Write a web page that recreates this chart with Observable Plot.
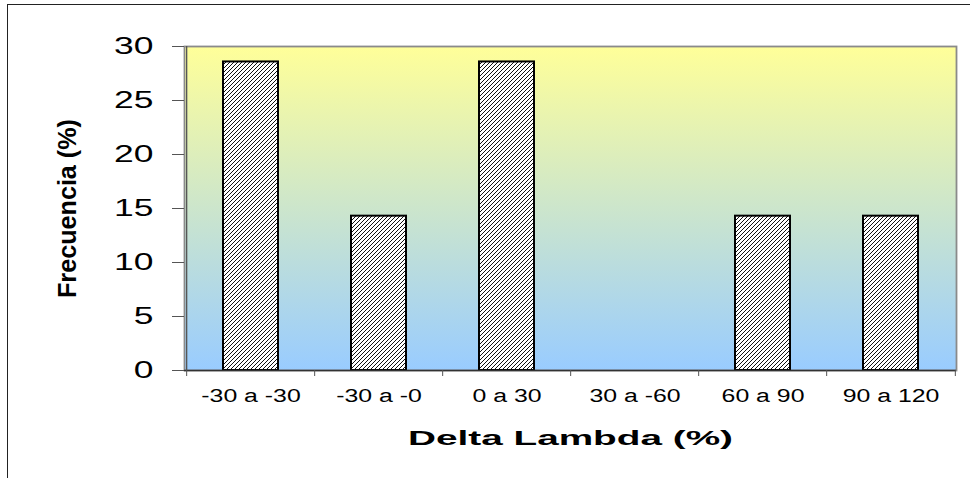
<!DOCTYPE html>
<html><head><meta charset="utf-8">
<script src="https://cdn.jsdelivr.net/npm/d3@7"></script>
<script src="https://cdn.jsdelivr.net/npm/@observablehq/plot@0.6"></script>
<style>
html,body{margin:0;padding:0;background:#fff;overflow:hidden}
#wrap{position:relative;width:970px;height:478px;overflow:hidden}
#border{position:absolute;left:7px;top:4px;width:1000px;height:1000px;border-top:1.5px solid #222;border-left:1.5px solid #222;pointer-events:none}
</style></head><body>
<div id="wrap"><div id="chart"></div><div id="border"></div></div>
<script>
const categories = ["-30 a -30", "-30 a -0", "0 a 30", "30 a -60", "60 a 90", "90 a 120"];
const frecuencia = [28.57, 14.29, 28.57, 0, 14.29, 14.29];
const yTicks = [0, 5, 10, 15, 20, 25, 30];
const xTitle = "Delta Lambda (%)";
const yTitle = "Frecuencia (%)";

const W = 970, H = 478, mL = 184, mR = 14, mT = 46, mB = 108;
const step = (W - mL - mR) / categories.length;
const data = categories.map((c, i) => ({cat: c, value: frecuencia[i]}));
const font = "Arial, 'Liberation Sans', Helvetica, sans-serif";

const chart = Plot.plot({
  width: W, height: H,
  marginLeft: mL, marginRight: mR, marginTop: mT, marginBottom: mB,
  style: {fontFamily: font, background: "transparent", color: "#000", overflow: "visible"},
  x: {type: "band", domain: categories, paddingInner: 0.5726, paddingOuter: 0.2863, axis: null},
  y: {domain: [0, 30], axis: null},
  marks: [
    Plot.frame({fill: "url(#bgGrad)", stroke: "#8a8a8a", strokeWidth: 1.8}),
    Plot.barY(data, {x: "cat", y: "value", fill: "url(#hatch)", stroke: "#000", strokeWidth: 2}),
    Plot.ruleY([0], {stroke: "#333", strokeWidth: 1.3}),
    Plot.ruleX([categories[0]], {dx: -step / 2, stroke: "#555", strokeWidth: 1.3}),
    Plot.axisY({ticks: yTicks, tickSize: 12, tickPadding: 19, fontSize: 23, stroke: "#555", fill: "#000", label: null}),
    Plot.axisX({tickSize: 0, tickPadding: 19, fontSize: 18, fill: "#000", label: null}),
    Plot.ruleX(categories, {x: d => d, y1: 0, y2: 0, dx: -step / 2, insetBottom: -6, stroke: "#555"}),
    Plot.ruleX([categories[categories.length - 1]], {x: d => d, y1: 0, y2: 0, dx: step / 2, insetBottom: -6, stroke: "#555"}),
    Plot.text([xTitle], {text: d => d, frameAnchor: "bottom", textAnchor: "middle", lineAnchor: "middle", dy: 68, fontSize: 21, fontWeight: "bold", fill: "#000"}),
    Plot.text([yTitle], {text: d => d, frameAnchor: "left", textAnchor: "middle", lineAnchor: "middle", dx: -117, rotate: -90, fontSize: 26, fontWeight: "bold", fill: "#000"})
  ]
});

document.getElementById("chart").appendChild(chart);

const svg = d3.select(chart);
const defs = svg.insert("defs", ":first-child");
const grad = defs.append("linearGradient").attr("id", "bgGrad")
  .attr("x1", 0).attr("y1", 0).attr("x2", 0).attr("y2", 1);
grad.append("stop").attr("offset", "0%").attr("stop-color", "#FFFF99");
grad.append("stop").attr("offset", "100%").attr("stop-color", "#99CCFF");
const pat = defs.append("pattern").attr("id", "hatch")
  .attr("patternUnits", "userSpaceOnUse").attr("width", 4).attr("height", 4);
pat.append("rect").attr("width", 4).attr("height", 4).attr("fill", "#fff");
pat.append("path").attr("d", "M-1,1 L1,-1 M0,4 L4,0 M3,5 L5,3")
  .attr("stroke", "#111").attr("stroke-width", 1);

function stretch(sel, factor) {
  sel.each(function() {
    const len = this.getComputedTextLength();
    this.setAttribute("textLength", len * factor);
    this.setAttribute("lengthAdjust", "spacingAndGlyphs");
  });
}
stretch(svg.selectAll('g[aria-label="y-axis tick label"] text'), 1.54);
stretch(svg.selectAll('g[aria-label="x-axis tick label"] text'), 1.38);
svg.selectAll("text").each(function() {
  const t = this.textContent;
  if (t === xTitle) { this.setAttribute("textLength", 325); this.setAttribute("lengthAdjust", "spacingAndGlyphs"); }
  if (t === yTitle) { this.setAttribute("textLength", 179); this.setAttribute("lengthAdjust", "spacingAndGlyphs"); }
});
</script>
</body></html>
